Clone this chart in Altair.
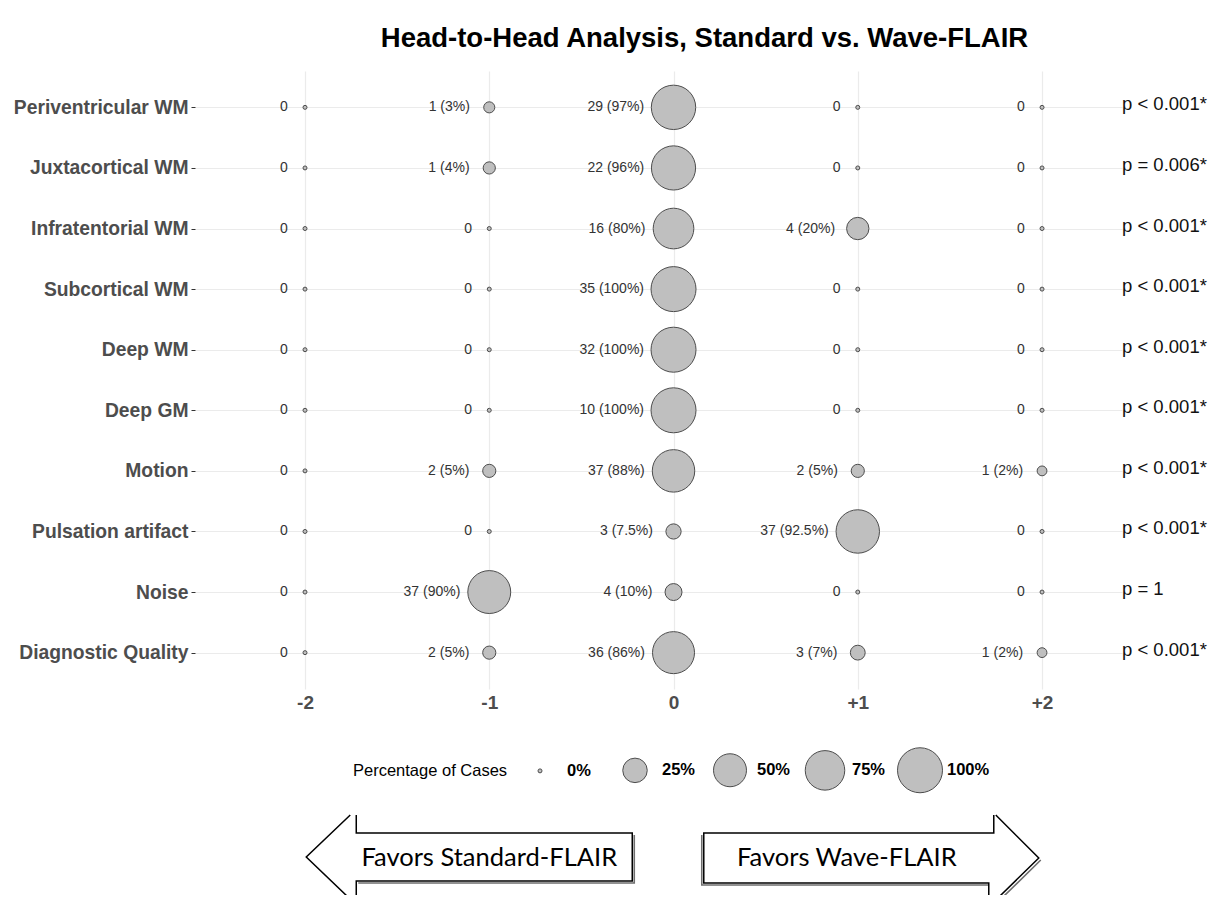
import altair as alt
import pandas as pd

# ---------------- data ----------------
categories = [
    "Periventricular WM", "Juxtacortical WM", "Infratentorial WM", "Subcortical WM",
    "Deep WM", "Deep GM", "Motion", "Pulsation artifact", "Noise", "Diagnostic Quality",
]
scores = [-2, -1, 0, 1, 2]
counts = [
    [0, 1, 29, 0, 0],
    [0, 1, 22, 0, 0],
    [0, 0, 16, 4, 0],
    [0, 0, 35, 0, 0],
    [0, 0, 32, 0, 0],
    [0, 0, 10, 0, 0],
    [0, 2, 37, 2, 1],
    [0, 0, 3, 37, 0],
    [0, 37, 4, 0, 0],
    [0, 2, 36, 3, 1],
]
percents = [
    [0, 3, 97, 0, 0],
    [0, 4, 96, 0, 0],
    [0, 0, 80, 20, 0],
    [0, 0, 100, 0, 0],
    [0, 0, 100, 0, 0],
    [0, 0, 100, 0, 0],
    [0, 5, 88, 5, 2],
    [0, 0, 7.5, 92.5, 0],
    [0, 90, 10, 0, 0],
    [0, 5, 86, 7, 2],
]
p_values = [
    "p < 0.001*", "p = 0.006*", "p < 0.001*", "p < 0.001*", "p < 0.001*",
    "p < 0.001*", "p < 0.001*", "p < 0.001*", "p = 1", "p < 0.001*",
]
legend_pcts = [0, 25, 50, 75, 100]
arrow_scores = [-1, 1]
arrow_labels = ["Favors Standard-FLAIR", "Favors Wave-FLAIR"]

# ---------------- tables ----------------
rows = []
for ci, cat in enumerate(categories):
    for si, s in enumerate(scores):
        n = counts[ci][si]
        p = percents[ci][si]
        label = "0" if n == 0 else f"{n} ({p:g}%)"
        rows.append({"category": cat, "score": s, "n": n, "pct": p, "label": label})
df = pd.DataFrame(rows)
df_p = pd.DataFrame({"category": categories, "ptext": p_values})
df_arrow = pd.DataFrame({"score": arrow_scores, "label": arrow_labels})

# ---------------- layout / style ----------------
W, H = 927, 618
XMIN, XMAX = -2.597, 2.434
PX_PER_UNIT = W / (XMAX - XMIN)
D0, K, DMAX = 4.0, 41.0, 45.0   # diameter = D0 + K*sqrt(pct/100)
FONT = "Liberation Sans"
GRID = "#ebebeb"
AXIS_TXT = "#4d4d4d"
FILL = "#bfbfbf"
STROKE = "#4d4d4d"

size_expr = f"pow(({D0} + {K}*sqrt(datum.pct/100))/{DMAX}, 2)*100"
legend_vals = [((D0 + K * (p / 100) ** 0.5) / DMAX) ** 2 * 100 for p in legend_pcts]
label_expr = (f"format(pow((sqrt(datum.value/100)*{DMAX} - {D0})/{K}, 2)*100, '.0f') + '%'")

x_scale = alt.Scale(domain=[XMIN, XMAX], nice=False, zero=False)
y_enc = alt.Y(
    "category:N", sort=categories,
    scale=alt.Scale(type="point", padding=0.6),
    axis=alt.Axis(title=None, labelFont=FONT, labelFontSize=19.3, labelFontWeight="bold",
                  labelColor=AXIS_TXT, tickColor="#333333", tickSize=4, tickWidth=1,
                  domain=False, grid=True, gridColor=GRID, gridWidth=1.2, labelPadding=3),
)
x_enc = alt.X(
    "score:Q", scale=x_scale,
    axis=alt.Axis(title=None, values=scores,
                  labelExpr="datum.value > 0 ? '+' + datum.value : '' + datum.value",
                  labelFont=FONT, labelFontSize=19, labelFontWeight="bold",
                  labelColor=AXIS_TXT, ticks=False, domain=False, grid=True,
                  gridColor=GRID, gridWidth=1.2, labelPadding=4),
)

base = alt.Chart(df)

points = base.transform_calculate(sz=size_expr).mark_point(
    shape="circle", filled=False, fill=FILL, fillOpacity=1, stroke=STROKE,
    strokeWidth=1, opacity=1
).encode(
    x=x_enc,
    y=y_enc,
    size=alt.Size(
        "sz:Q",
        scale=alt.Scale(type="linear", domain=[0, 100], range=[0, DMAX * DMAX]),
        legend=alt.Legend(
            title="Percentage of Cases", orient="none", legendX=158, legendY=676,
            direction="horizontal", columns=5, gridAlign="all",
            titleOrient="left", values=legend_vals, labelExpr=label_expr,
            symbolStrokeWidth=1, symbolOpacity=1, symbolType="circle",
            labelFont=FONT, labelFontSize=16.5, labelFontWeight="bold", labelColor="black",
            titleFont=FONT, titleFontSize=16.5, titleFontWeight="normal", titleColor="black",
            titleBaseline="middle", titlePadding=9, columnPadding=0, labelOffset=4,
        ),
    ),
)

labels = base.transform_calculate(
    tx=f"datum.score - (16 + 0.3*({D0} + {K}*sqrt(datum.pct/100)))/{PX_PER_UNIT}"
).mark_text(align="right", baseline="middle", font=FONT, fontSize=14, color="#333333").encode(
    x=alt.X("tx:Q", scale=x_scale),
    y=alt.Y("category:N", sort=categories),
    text="label:N",
)

ptext = alt.Chart(df_p).mark_text(
    align="left", baseline="middle", font=FONT, fontSize=18.5, color="#111111", dy=-3
).encode(
    x=alt.datum(XMAX),
    y=alt.Y("category:N", sort=categories),
    text="ptext:N",
)

left_path = ("M -133 -43 L -133 -25 L 143 -25 L 143 23 L -133 23 L -133 47 "
             "M -139 -43 L -183 -1 L -135 45")
left_shadow = "M 145 -23 L 145 25 L -131 25"
right_path = ("M 136 -43 L 136 -25 L -154 -25 L -154 25 L 131 25 L 131 47 "
              "M 138 -43 L 181 0 L 133 47")
right_shadow = "M -156 -23 L -156 27 L 131 27 M 183 2 L 135 49"
ARROW_Y = 787

arrows_l = alt.Chart(df_arrow).transform_filter("datum.score < 0")
arrows_r = alt.Chart(df_arrow).transform_filter("datum.score > 0")
pos = dict(x=alt.X("score:Q", scale=x_scale), y=alt.value(ARROW_Y))

shadow_l = arrows_l.mark_point(shape=left_shadow, size=4, filled=False, stroke="#6e6e6e",
                               strokeWidth=1.6, opacity=1).encode(**pos)
shadow_r = arrows_r.mark_point(shape=right_shadow, size=4, filled=False, stroke="#6e6e6e",
                               strokeWidth=1.6, opacity=1).encode(**pos)
arrow_l = arrows_l.mark_point(shape=left_path, size=4, filled=False, stroke="black",
                              strokeWidth=1.5, opacity=1).encode(**pos)
arrow_r = arrows_r.mark_point(shape=right_path, size=4, filled=False, stroke="black",
                              strokeWidth=1.5, opacity=1).encode(**pos)

arrow_tl = arrows_l.mark_text(
    font="Lato", fontSize=25.5, color="black", align="center", baseline="middle"
).encode(text="label:N", **pos)
arrow_tr = arrows_r.mark_text(
    font="Lato", fontSize=25.5, color="black", align="center", baseline="middle", dx=-11
).encode(text="label:N", **pos)

chart = alt.layer(points, labels, ptext, shadow_l, shadow_r, arrow_l, arrow_r,
                  arrow_tl, arrow_tr).properties(
    width=W, height=H,
    title=alt.Title("Head-to-Head Analysis, Standard vs. Wave-FLAIR", font=FONT,
                    fontSize=27.5, fontWeight="bold", color="black", anchor="middle",
                    dx=46, offset=19),
    autosize=alt.AutoSizeParams(type="none"),
    padding={"left": 187, "top": 63, "right": 87, "bottom": 206},
    background="white",
).configure_view(stroke=None)

chart.save("out.html", embed_options={"renderer": "svg", "actions": False})
